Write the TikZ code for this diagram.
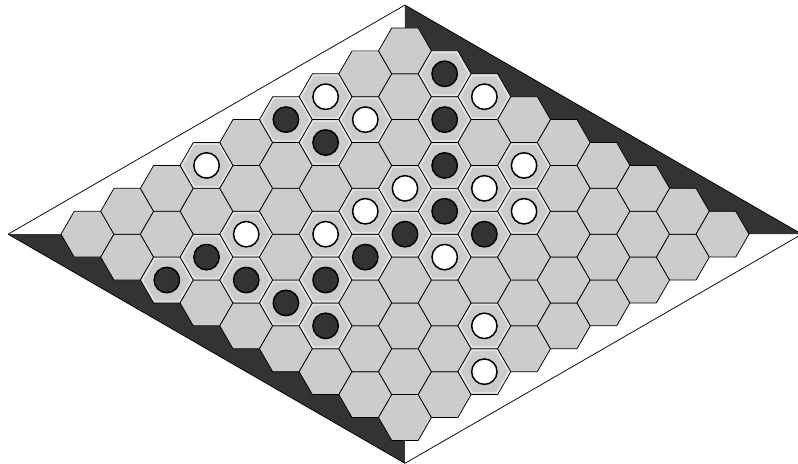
\documentclass[tikz,border=0pt]{standalone}
\begin{document}
\begin{tikzpicture}[
    casa/.style={fill=gray!40, draw=black, line width=0.8pt, line join=round},
    realce/.style={draw=gray!20, line width=1.6pt, line join=round},
    pedra/.style={draw=black, line width=1.6pt},
    preta/.style={pedra, fill=black!80},
    branca/.style={pedra, fill=white},
    borda/.style={fill=black!80}
  ]
  \useasboundingbox (-15.306,-8.685) rectangle (14.853,8.851);

  % Lados escuros do tabuleiro
  \fill[borda] (0,0) -- (15,0) -- (0,8.66) -- cycle;
  \fill[borda] (0,0) -- (-15,0) -- (0,-8.66) -- cycle;

  % Casas 9x9
  \foreach \i in {0,...,8}
    \foreach \j in {0,...,8}
      \draw[casa] ({1.5*(\i+\j-8)+1},{0.866*(\i-\j)}) -- ++(120:1) -- ++(180:1)
        -- ++(240:1) -- ++(300:1) -- ++(0:1) -- cycle;

  % Pedras brancas
  \foreach \i/\j in {6/0,8/2,6/1,3/0,7/4,5/3,6/4,4/3,6/5,2/2,3/3,4/5,3/7,2/8}{
    \draw[realce] ({1.5*(\i+\j-8)+0.93},{0.866*(\i-\j)}) -- ++(120:0.93) -- ++(180:0.93)
      -- ++(240:0.93) -- ++(300:0.93) -- ++(0:0.93) -- cycle;
    \draw[branca] ({1.5*(\i+\j-8)},{0.866*(\i-\j)}) circle (0.48);
  }

  % Pedras pretas
  \foreach \i/\j in {8/1,7/2,5/0,5/1,6/3,5/4,4/4,5/5,3/4,1/2,0/2,1/3,2/4,1/4,1/5}{
    \draw[realce] ({1.5*(\i+\j-8)+0.93},{0.866*(\i-\j)}) -- ++(120:0.93) -- ++(180:0.93)
      -- ++(240:0.93) -- ++(300:0.93) -- ++(0:0.93) -- cycle;
    \draw[preta] ({1.5*(\i+\j-8)},{0.866*(\i-\j)}) circle (0.48);
  }

  % Contorno do tabuleiro
  \draw[line width=0.8pt, line join=round] (-15,0) -- (0,8.66) -- (15,0) -- (0,-8.66) -- cycle;
\end{tikzpicture}
\end{document}
